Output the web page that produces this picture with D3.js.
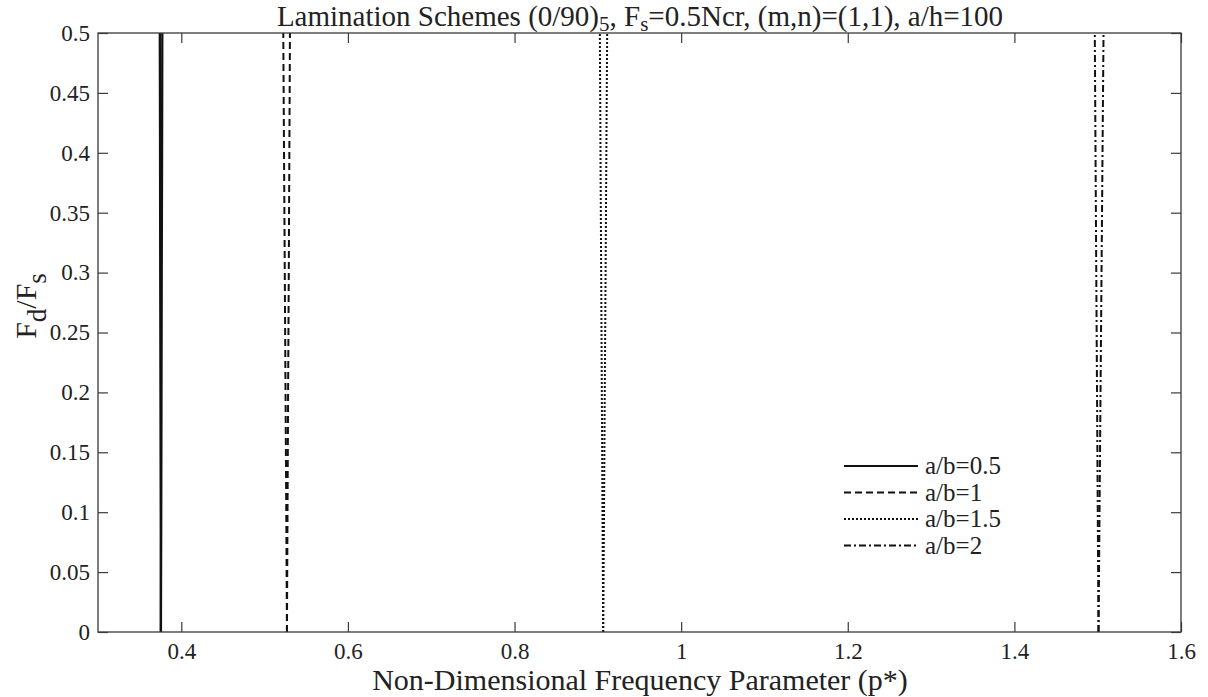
<!DOCTYPE html>
<html>
<head>
<meta charset="utf-8">
<script src="https://cdn.jsdelivr.net/npm/d3@7"></script>
<style>
  body { margin: 0; background: #fff; }
  svg text { font-family: "Liberation Serif", "Times New Roman", serif; fill: #222; }
</style>
</head>
<body>
<svg id="chart" width="1208" height="697"></svg>
<script>
// values: each ratio has a lower and an upper branch
var loadRatio = [0, 0.1, 0.2, 0.3, 0.4, 0.5];
var series = ['a/b=0.5', 'a/b=1', 'a/b=1.5', 'a/b=2'];
var lowerBranch = [
  [0.3755, 0.3753, 0.3750, 0.3747, 0.3745, 0.3742],
  [0.5268, 0.5260, 0.5251, 0.5242, 0.5233, 0.5224],
  [0.9064, 0.9056, 0.9048, 0.9040, 0.9032, 0.9024],
  [1.5010, 1.5001, 1.4992, 1.4983, 1.4974, 1.4965]
];
var upperBranch = [
  [0.3755, 0.3759, 0.3762, 0.3765, 0.3769, 0.3772],
  [0.5268, 0.5275, 0.5282, 0.5290, 0.5297, 0.5304],
  [0.9064, 0.9074, 0.9083, 0.9093, 0.9102, 0.9112],
  [1.5010, 1.5022, 1.5034, 1.5046, 1.5058, 1.5070]
];
var xTicks = [0.4, 0.6, 0.8, 1, 1.2, 1.4, 1.6];
var yTicks = [0, 0.05, 0.1, 0.15, 0.2, 0.25, 0.3, 0.35, 0.4, 0.45, 0.5];
var dashes = [null, '7,4', '2,2', '7,3,2,3'];

(function(){
  var svg = d3.select('#chart'),
      left = 98, right = 1181, top = 33, bottom = 632,
      axisColor = '#3a3a3a',
      serif = '"Liberation Serif", "Times New Roman", serif';

  var x = d3.scaleLinear().domain([0.3, 1.6]).range([left, right]),
      y = d3.scaleLinear().domain([0, 0.5]).range([bottom, top]);

  var line = d3.line()
    .x(function(d){ return x(d[0]); })
    .y(function(d){ return y(d[1]); });

  // curves
  var g = svg.append('g').attr('class', 'curves');
  series.forEach(function(name, i){
    [lowerBranch[i], upperBranch[i]].forEach(function(branch){
      var pts = branch.map(function(v, k){ return [v, loadRatio[k]]; });
      g.append('path')
        .attr('d', line(pts))
        .attr('fill', 'none')
        .attr('stroke', '#111')
        .attr('stroke-width', i === 0 ? 2.3 : 2)
        .attr('stroke-dasharray', dashes[i]);
    });
  });

  // axes with inward ticks on all four sides
  var fmt = function(d){ return String(d); };
  svg.append('g').attr('class', 'ax').attr('transform', 'translate(0,' + bottom + ')')
    .call(d3.axisBottom(x).tickValues(xTicks).tickFormat(fmt).tickSizeInner(-10).tickSizeOuter(0).tickPadding(11));
  svg.append('g').attr('class', 'ax').attr('transform', 'translate(0,' + top + ')')
    .call(d3.axisTop(x).tickValues(xTicks).tickFormat('').tickSizeInner(-10).tickSizeOuter(0));
  svg.append('g').attr('class', 'ax').attr('transform', 'translate(' + left + ',0)')
    .call(d3.axisLeft(y).tickValues(yTicks).tickFormat(fmt).tickSizeInner(-10).tickSizeOuter(0).tickPadding(8));
  svg.append('g').attr('class', 'ax').attr('transform', 'translate(' + right + ',0)')
    .call(d3.axisRight(y).tickValues(yTicks).tickFormat('').tickSizeInner(-10).tickSizeOuter(0));

  svg.selectAll('.ax').attr('font-family', null).attr('font-size', null);
  svg.selectAll('.domain').remove();
  svg.selectAll('.tick line').attr('stroke', axisColor).attr('stroke-width', 1.2);
  svg.selectAll('.tick text')
    .style('font-family', serif).style('font-size', '23px').attr('fill', '#222');

  svg.append('rect')
    .attr('x', left).attr('y', top)
    .attr('width', right - left).attr('height', bottom - top)
    .attr('fill', 'none').attr('stroke', axisColor).attr('stroke-width', 1.3);

  // legend
  var lg = svg.append('g').attr('class', 'legend');
  series.forEach(function(name, i){
    var ly = 466 + i * 26.5;
    lg.append('line')
      .attr('x1', 844).attr('x2', 918).attr('y1', ly).attr('y2', ly)
      .attr('stroke', '#111').attr('stroke-width', i === 0 ? 2.2 : 2)
      .attr('stroke-dasharray', dashes[i]);
    lg.append('text').attr('x', 925).attr('y', ly + 8)
      .style('font-size', '25px').text(name);
  });

  // title
  var t = svg.append('text').attr('x', 640).attr('y', 26)
    .attr('text-anchor', 'middle').style('font-size', '29px');
  t.append('tspan').text('Lamination Schemes (0/90)');
  t.append('tspan').attr('dy', 5).style('font-size', '21px').text('5');
  t.append('tspan').attr('dy', -5).text(', F');
  t.append('tspan').attr('dy', 5).style('font-size', '21px').text('s');
  t.append('tspan').attr('dy', -5).text('=0.5Ncr, (m,n)=(1,1), a/h=100');

  // x label
  svg.append('text').attr('x', 640).attr('y', 690)
    .attr('text-anchor', 'middle').style('font-size', '30px')
    .text('Non-Dimensional Frequency Parameter (p*)');

  // y label
  var yl = svg.append('text')
    .attr('transform', 'translate(36,306) rotate(-90)')
    .attr('text-anchor', 'middle').style('font-size', '30px');
  yl.append('tspan').text('F');
  yl.append('tspan').attr('dy', 10).style('font-size', '27px').text('d');
  yl.append('tspan').attr('dy', -10).text('/F');
  yl.append('tspan').attr('dy', 10).style('font-size', '27px').text('s');
})();
</script>
</body>
</html>
